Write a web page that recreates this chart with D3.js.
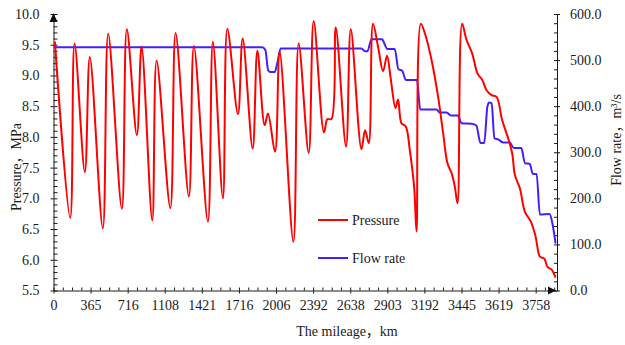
<!DOCTYPE html>
<html>
<head>
<meta charset="utf-8">
<script src="https://cdn.jsdelivr.net/npm/d3@7"></script>
<style>
  body { margin: 0; background: #fff; }
  svg text { font-family: "Times New Roman", "Liberation Serif", "Noto Sans CJK SC", serif; font-size: 14px; fill: #1a1a1a; }
  .axis path, .axis line { stroke: #1a1a1a; }
</style>
</head>
<body>
<svg id="chart" width="625" height="345"></svg>
<script>
// mileage labels shown every 4 ticks along the bottom axis
const mileageLabels = ["0", "365", "716", "1108", "1421", "1716", "2006", "2392", "2638", "2903", "3192", "3445", "3619", "3758"];

// positions are in tick steps along the mileage axis
const pressurePos = [0.15, 1.80, 2.27, 3.38, 3.92, 5.32, 5.90, 7.37, 7.91, 8.99, 9.50, 10.65, 11.12, 12.60, 13.17,
  14.60, 15.14, 16.65, 17.19, 18.27, 18.75, 19.89, 20.40, 21.48, 21.99, 22.77, 23.13, 23.89, 24.39, 25.87,
  26.44, 27.52, 28.06, 29.17, 29.54, 29.97, 30.44, 31.55, 32.06, 33.21, 33.60, 34.00, 34.46, 35.00, 35.54,
  35.97, 36.34, 36.88, 37.16, 37.53, 37.99, 38.42, 38.89, 39.15, 39.61, 40.04, 40.77, 41.48, 42.02, 42.49,
  42.93, 43.28, 43.57, 44.07, 44.54, 45.15, 45.73, 46.23, 46.70, 47.24, 47.78, 48.39, 49.03, 49.47, 49.76,
  50.30, 50.84, 51.48, 51.99, 52.46, 52.92, 53.29, 53.72, 54.15];
const pressure = [9.55, 6.68, 9.52, 7.43, 9.30, 6.51, 9.68, 6.83, 9.75, 8.03, 9.47, 6.64, 9.24, 6.84, 9.69,
  7.03, 9.48, 6.62, 9.55, 7.00, 9.76, 8.37, 9.60, 7.81, 9.40, 8.19, 8.38, 7.76, 9.39, 6.29,
  9.52, 7.74, 9.88, 8.07, 8.29, 8.29, 9.78, 7.84, 9.75, 7.80, 8.11, 7.90, 9.84, 9.47, 9.07,
  9.32, 8.98, 8.47, 8.61, 8.22, 8.17, 7.79, 7.19, 6.46, 9.84, 9.69, 9.25, 8.65, 8.06, 7.57,
  7.41, 7.19, 6.92, 9.84, 9.58, 9.36, 9.03, 8.93, 8.76, 8.68, 8.65, 8.27, 7.98, 7.73, 7.38,
  7.16, 6.78, 6.62, 6.38, 6.05, 6.02, 5.88, 5.84, 5.71];

const flowPos = [0, 22.5, 22.85, 23.15, 23.4, 23.85, 24.15, 24.5, 33.2, 33.6, 33.85, 34.3, 35.45, 35.6, 36.0,
  36.8, 37.2, 37.6, 38.0, 39.2, 39.55, 41.3, 41.65, 42.4, 42.85, 43.6, 44.0, 45.1, 45.6, 46.05, 46.45,
  46.8, 47.0, 47.25, 47.55, 47.95, 48.5, 49.2, 49.65, 50.45, 50.85, 51.35, 51.7, 52.1, 52.45, 53.5, 53.8, 54.15];
const flow = [528, 528, 522, 478, 474, 474, 495, 525, 525, 519, 519, 545, 545, 540, 524,
  524, 480, 477, 457, 457, 393, 393, 386, 386, 380, 380, 363, 362, 358, 320, 320,
  400, 408, 406, 330, 328, 321, 321, 309, 309, 276, 275, 253, 253, 165, 166, 146, 102];

const svg = d3.select("#chart");
const plotLeft = 53.5, plotRight = 557, plotTop = 14, plotBottom = 290.5;
const serif = '"Times New Roman", "Liberation Serif", "Noto Sans CJK SC", serif';

const x = d3.scaleLinear().domain([0, 54.3]).range([plotLeft, plotRight]);
const yP = d3.scaleLinear().domain([5.5, 10]).range([plotBottom, plotTop]);
const yF = d3.scaleLinear().domain([0, 600]).range([plotBottom, plotTop]);

// left axis: labels + crossing major ticks, minor ticks inside
svg.append("g").attr("class", "axis")
  .attr("transform", `translate(${plotLeft},0)`)
  .call(d3.axisLeft(yP).tickValues(d3.range(5.5, 10.01, 0.5)).tickFormat(d3.format(".1f"))
    .tickSize(3).tickSizeOuter(0).tickPadding(11));
svg.append("g").attr("class", "axis")
  .attr("transform", `translate(${plotLeft},0)`)
  .call(d3.axisRight(yP).tickValues(d3.range(5.5, 10.01, 0.1)).tickFormat("").tickSize(4).tickSizeOuter(0))
  .call(g => g.select(".domain").remove());

// right axis
svg.append("g").attr("class", "axis")
  .attr("transform", `translate(${plotRight},0)`)
  .call(d3.axisRight(yF).tickValues(d3.range(0, 601, 100)).tickFormat(d3.format(".1f"))
    .tickSize(3).tickSizeOuter(0).tickPadding(10));
svg.append("g").attr("class", "axis")
  .attr("transform", `translate(${plotRight},0)`)
  .call(d3.axisLeft(yF).tickValues(d3.range(0, 601, 20)).tickFormat("").tickSize(3).tickSizeOuter(0))
  .call(g => g.select(".domain").remove());

// bottom axis
svg.append("g").attr("class", "axis")
  .attr("transform", `translate(0,${plotBottom})`)
  .call(d3.axisBottom(x).tickValues(d3.range(0, 53, 4)).tickFormat((d, i) => mileageLabels[i])
    .tickSize(3).tickSizeOuter(0).tickPadding(7));
svg.append("g").attr("class", "axis")
  .attr("transform", `translate(0,${plotBottom})`)
  .call(d3.axisTop(x).tickValues(d3.range(0, 55, 1)).tickFormat("").tickSize(3).tickSizeOuter(0))
  .call(g => g.select(".domain").remove());

svg.selectAll(".axis")
  .attr("font-family", serif)
  .attr("font-size", 14);
svg.selectAll(".axis text").style("font-family", serif).style("font-size", "14px");

// axis arrows
svg.append("path")
  .attr("d", `M${plotLeft},${plotTop - 1} L${plotLeft - 4},${plotTop + 8} L${plotLeft + 4},${plotTop + 8} Z`)
  .attr("fill", "#111");
svg.append("path")
  .attr("d", `M${plotRight - 1},${plotBottom} L${plotRight - 9},${plotBottom - 4} L${plotRight - 9},${plotBottom + 4} Z`)
  .attr("fill", "#111");

const pressureLine = d3.line()
  .x((d, i) => x(pressurePos[i]))
  .y(d => yP(d))
  .curve(d3.curveCatmullRom.alpha(0.5));

const flowLine = d3.line()
  .x((d, i) => x(flowPos[i]))
  .y(d => yF(d))
  .curve(d3.curveMonotoneX);

svg.append("path")
  .datum(flow)
  .attr("fill", "none")
  .attr("stroke", "#4020ff")
  .attr("stroke-width", 2)
  .attr("d", flowLine);

svg.append("path")
  .datum(pressure)
  .attr("fill", "none")
  .attr("stroke", "#ff0000")
  .attr("stroke-width", 2)
  .attr("d", pressureLine);

// legend
const legend = [
  { name: "Pressure", color: "#ff0000", y: 220 },
  { name: "Flow rate", color: "#4020ff", y: 258 }
];
legend.forEach(item => {
  svg.append("line")
    .attr("x1", 318).attr("x2", 348)
    .attr("y1", item.y).attr("y2", item.y)
    .attr("stroke", item.color).attr("stroke-width", 2);
  svg.append("text")
    .attr("x", 352).attr("y", item.y).attr("dy", "0.35em")
    .text(item.name);
});

// axis titles
svg.append("text")
  .attr("x", 347).attr("y", 336)
  .attr("text-anchor", "middle")
  .text("The mileage，km");

svg.append("text")
  .attr("transform", "translate(21,167) rotate(-90)")
  .attr("text-anchor", "middle")
  .text("Pressure，MPa");

svg.append("text")
  .attr("transform", "translate(621,140) rotate(-90)")
  .attr("text-anchor", "middle")
  .text("Flow rate，m³/s");
</script>
</body>
</html>
